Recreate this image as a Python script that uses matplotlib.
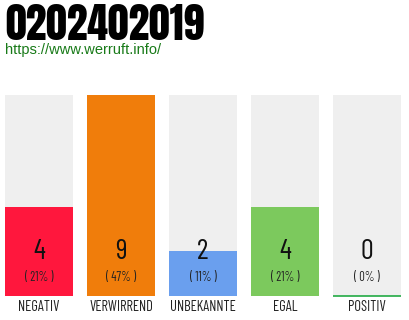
import matplotlib
matplotlib.use("Agg")
import matplotlib.pyplot as plt
import numpy as np

title = "0202402019"
url = "https://www.werruft.info/"
categories = ["NEGATIV", "VERWIRREND", "UNBEKANNTE", "EGAL", "POSITIV"]
counts = [4, 9, 2, 4, 0]
percents = ["( 21% )", "( 47% )", "( 11% )", "( 21% )", "( 0% )"]
colors = ["#ff173d", "#f07d0b", "#6a9fee", "#7cc95d", "#efefef"]

thin = ["Barlow Condensed", "Oswald", "DejaVu Sans"]
heavy = ["Anton", "Oswald", "DejaVu Sans"]

fig = plt.figure(figsize=(4.1, 3.2), dpi=100)
W, H = 410, 320

# bar area in pixels: left 5, right 401, top 95, bottom 296
ax = fig.add_axes([5 / W, 1 - 296 / H, 396 / W, 201 / H])
x = np.arange(len(categories))
bw = 68 / 82
ymax = max(counts)
ax.bar(x, [ymax] * len(x), width=bw, color="#efefef", zorder=1)
ax.bar(x, counts, width=bw, color=colors, zorder=2)
ax.set_xlim(-0.5 * bw, len(x) - 1 + 0.5 * bw)
ax.set_ylim(0, ymax)
ax.axis("off")

# green base line for empty bar
for i, c in enumerate(counts):
    if c == 0:
        ax.plot([i - bw / 2, i + bw / 2], [0, 0], color="#22aa44", lw=1.2,
                zorder=3, clip_on=False, solid_capstyle="butt")

for i in range(len(x)):
    ax.text(i, ymax * 44 / 201, str(counts[i]), ha="center", va="center",
            fontsize=20.5, family=thin, fontweight="normal", color="#111111", zorder=4)
    ax.text(i, ymax * 19 / 201, percents[i], ha="center", va="center",
            fontsize=9, family=thin, fontweight="normal", color="#222222", zorder=4)
    ax.text(i, -ymax * 11 / 201, categories[i], ha="center", va="center",
            fontsize=10.5, family=thin, fontweight="normal", color="#222222", zorder=4,
            clip_on=False)

fig.text(5 / W, 1 - 40 / H, title, ha="left", va="baseline", fontsize=30,
         family=heavy, color="#000000")
fig.text(5 / W, 1 - 54 / H, url, ha="left", va="baseline", fontsize=10.5,
         family=["Liberation Sans", "DejaVu Sans"], color="#187a18")

fig.savefig("out.png", dpi=100)
